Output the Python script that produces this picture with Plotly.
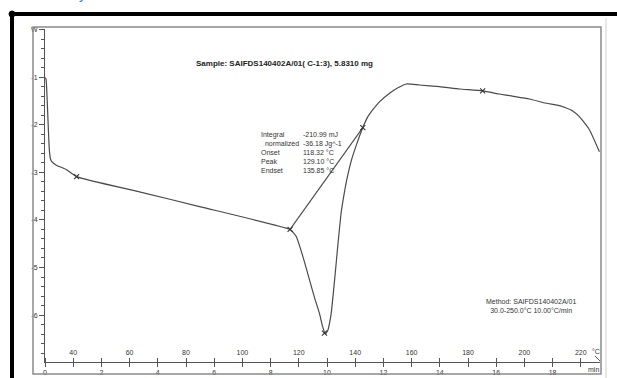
import plotly.graph_objects as go

# ---- data ----
time_min = [0.00, 0.035, 0.07, 0.106, 0.135, 0.16, 0.195, 0.25, 0.40, 0.75, 1.12,
            3.35, 5.48, 8.69, 8.78, 8.91, 9.13, 9.38, 9.56, 9.73, 9.84, 9.94,
            10.03, 10.09, 10.15, 10.27, 10.38, 10.50, 10.60, 10.70, 10.87,
            11.04, 11.27, 11.44, 11.62, 11.86, 12.22, 12.50, 12.81, 13.28, 13.99,
            14.70, 15.52, 16.11, 16.58, 17.18, 17.77, 18.24, 18.71, 18.95, 19.31,
            19.66]
heat_flow_mW = [-1.01, -1.04, -1.38, -1.90, -2.32, -2.57, -2.72, -2.78, -2.85, -2.94, -3.09,
                -3.41, -3.72, -4.20, -4.25, -4.35, -4.74, -5.26, -5.64, -5.96, -6.23, -6.39,
                -6.32, -6.17, -5.96, -5.26, -4.56, -3.86, -3.48, -3.16, -2.74,
                -2.43, -2.06, -1.84, -1.69, -1.52, -1.34, -1.23, -1.145, -1.166, -1.20,
                -1.25, -1.29, -1.355, -1.40, -1.46, -1.55, -1.60, -1.71, -1.83, -2.11,
                -2.57]

baseline_time = [8.69, 11.27]
baseline_mW = [-4.20, -2.06]

marker_time = [1.12, 8.69, 9.91, 11.27, 15.52]
marker_mW = [-3.09, -4.20, -6.38, -2.06, -1.29]

y_tick_vals = [0, -1, -2, -3, -4, -5, -6]
y_tick_text = ["W", "-1", "-2", "-3", "-4", "-5", "-6"]

time_ticks = list(range(0, 20))
time_labels = ["0", "2", "4", "6", "8", "10", "12", "14", "16", "18"]
temp_labels = ["40", "60", "80", "100", "120", "140", "160", "180", "200", "220"]
start_temp = 30.0
heating_rate = 10.0  # degC/min

info_names = ["Integral", "\u00a0\u00a0normalized", "Onset", "Peak", "Endset"]
info_values = ["-210.99 mJ", "-36.18 Jg^-1", "118.32 \u00b0C", "129.10 \u00b0C", "135.85 \u00b0C"]
sample_title = "Sample: SAIFDS140402A/01( C-1:3), 5.8310 mg"
method_lines = ["Method: SAIFDS140402A/01", "30.0-250.0\u00b0C 10.00\u00b0C/min"]

# ---- figure ----
FONT = "Liberation Sans, Arial, sans-serif"
W, H = 617, 378
ML, MR, MT, MB = 45, 17, 29, 16
PW, PH = W - ML - MR, H - MT - MB


def px(x):
    return (x - ML) / PW


def py(y):
    return (H - MB - y) / PH


time_ticktext = []
for t in time_ticks:
    time_ticktext.append(str(t) if str(t) in time_labels and t % 2 == 0 else "")
temp_ticktext = []
for t in time_ticks:
    temp = start_temp + heating_rate * t
    lab = str(int(temp))
    temp_ticktext.append(lab if (lab in temp_labels and t % 2 == 1) else "")

fig = go.Figure()
fig.add_trace(go.Scatter(x=time_min, y=heat_flow_mW, mode="lines",
                         line=dict(color="#4a4a4a", width=1.2, shape="spline", smoothing=0.5),
                         hoverinfo="skip", showlegend=False))
fig.add_trace(go.Scatter(x=baseline_time, y=baseline_mW, mode="lines",
                         line=dict(color="#4a4a4a", width=1.1),
                         hoverinfo="skip", showlegend=False))
fig.add_trace(go.Scatter(x=marker_time, y=marker_mW, mode="markers",
                         marker=dict(symbol="x-thin", size=5, line=dict(color="#333", width=1.1)),
                         hoverinfo="skip", showlegend=False))
fig.add_trace(go.Scatter(x=[None], y=[None], xaxis="x2", yaxis="y",
                         hoverinfo="skip", showlegend=False))

tickfont = dict(family=FONT, size=7, color="#333")
fig.update_layout(
    template="none",
    width=W, height=H, autosize=False,
    margin=dict(l=ML, r=MR, t=MT, b=MB, pad=0),
    paper_bgcolor="white", plot_bgcolor="white",
    font=dict(family=FONT, color="#333"),
    showlegend=False,
    xaxis=dict(range=[0, PW / 28.2], showgrid=False, zeroline=False, automargin=False,
               showline=True, linecolor="#555", linewidth=1,
               tickmode="array", tickvals=time_ticks, ticktext=time_ticktext,
               ticks="outside", ticklen=4, tickwidth=1, tickcolor="#555",
               tickfont=tickfont),
    xaxis2=dict(range=[0, PW / 28.2], overlaying="x", side="top", anchor="free", position=0,
                showgrid=False, zeroline=False, showline=False, automargin=False,
                tickmode="array", tickvals=time_ticks, ticktext=temp_ticktext,
                ticks="outside", ticklen=4, tickwidth=1, tickcolor="#555",
                tickfont=tickfont),
    yaxis=dict(range=[-(PH - 0.5) / 47.6, 0.5 / 47.6], showgrid=False, zeroline=False,
               automargin=False,
               showline=True, linecolor="#555", linewidth=1,
               tickmode="array", tickvals=y_tick_vals, ticktext=y_tick_text,
               ticks="outside", ticklen=5, tickwidth=1, tickcolor="#555",
               minor=dict(dtick=0.2, tick0=0, ticks="outside", ticklen=3,
                          tickwidth=1, tickcolor="#555", showgrid=False),
               tickfont=tickfont),
)

shapes = []
# grey inner frame
shapes.append(dict(type="rect", xref="paper", yref="paper",
                   x0=px(33), x1=px(601), y0=py(374), y1=py(27),
                   line=dict(color="#8a8a8a", width=1.5), fillcolor="rgba(0,0,0,0)"))
# thick black outer lines
shapes.append(dict(type="line", xref="paper", yref="paper",
                   x0=px(11), x1=px(617), y0=py(14), y1=py(14),
                   line=dict(color="black", width=4)))
shapes.append(dict(type="line", xref="paper", yref="paper",
                   x0=px(12), x1=px(12), y0=py(14), y1=py(378),
                   line=dict(color="black", width=4)))
shapes.append(dict(type="circle", xref="paper", yref="paper",
                   x0=px(9), x1=px(15), y0=py(17), y1=py(11),
                   line=dict(color="black", width=1), fillcolor="black"))
# light page edge line on the right
shapes.append(dict(type="line", xref="paper", yref="paper",
                   x0=px(606), x1=px(606), y0=py(18), y1=py(378),
                   line=dict(color="#cfcfcf", width=1)))
# small arrow at the end of the x axis
shapes.append(dict(type="line", xref="paper", yref="paper",
                   x0=px(595), x1=px(600), y0=py(356), y1=py(361),
                   line=dict(color="#555", width=1)))
fig.update_layout(shapes=shapes)

annotations = [
    dict(text="<b>" + sample_title + "</b>", x=px(284), y=py(63.5), xref="paper", yref="paper",
         showarrow=False, xanchor="center", yanchor="middle",
         font=dict(family=FONT, size=8, color="#222")),
    dict(text="<br>".join(info_names), x=px(259), y=py(129), xref="paper", yref="paper",
         showarrow=False, xanchor="left", yanchor="top", align="left",
         font=dict(family=FONT, size=7, color="#333")),
    dict(text="<br>".join(info_values), x=px(301), y=py(129), xref="paper", yref="paper",
         showarrow=False, xanchor="left", yanchor="top", align="left",
         font=dict(family=FONT, size=7, color="#333")),
    dict(text="<br>".join(method_lines), x=px(531), y=py(306), xref="paper", yref="paper",
         showarrow=False, xanchor="center", yanchor="middle", align="center",
         font=dict(family=FONT, size=7, color="#333")),
    dict(text="min", x=px(593), y=py(369), xref="paper", yref="paper",
         showarrow=False, xanchor="center", yanchor="middle",
         font=dict(family=FONT, size=7, color="#333")),
    dict(text="\u00b0C", x=px(596), y=py(351), xref="paper", yref="paper",
         showarrow=False, xanchor="center", yanchor="middle",
         font=dict(family=FONT, size=7, color="#333")),
    dict(text="y", x=px(82), y=py(4), xref="paper", yref="paper",
         showarrow=False, xanchor="center", yanchor="bottom",
         font=dict(family=FONT, size=14, color="#1a7fd4")),
]
fig.update_layout(annotations=annotations)

fig.write_html("out.html",
               config={"displayModeBar": False, "staticPlot": True},
               post_script="document.body.style.margin='0';document.body.style.overflow='hidden';")
